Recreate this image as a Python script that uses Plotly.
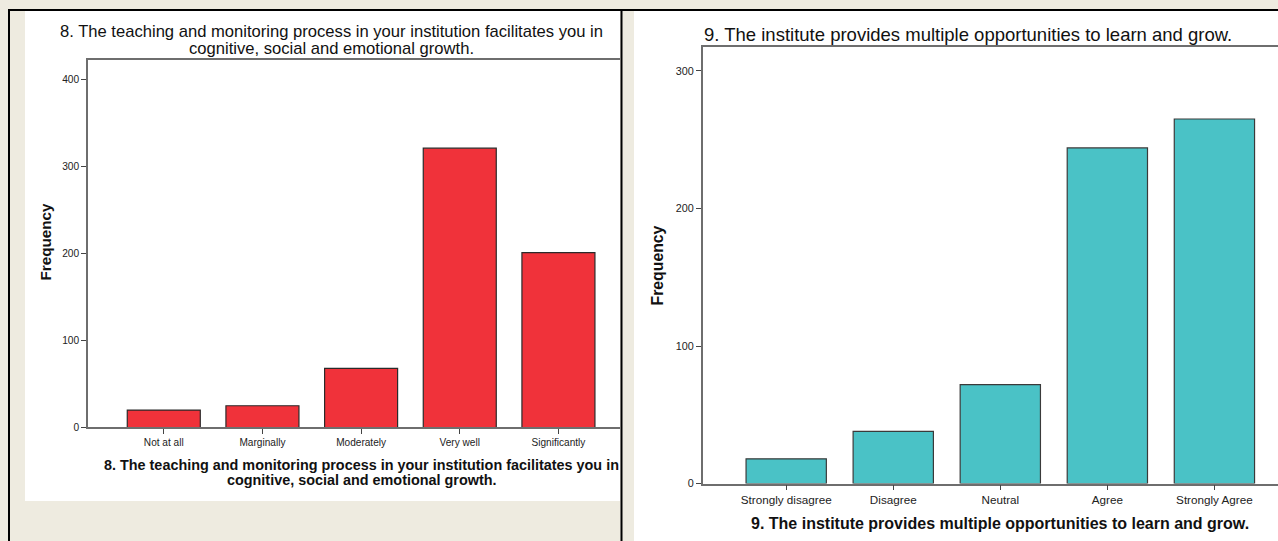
import plotly.graph_objects as go

W, H = 1278, 541  # reference picture size, used to convert pixel positions to paper fractions

# ---- data ----
cats_8 = ["Not at all", "Marginally", "Moderately", "Very well", "Significantly"]
freq_8 = [20, 25, 68, 321, 201]
title_8_l1 = "8. The teaching and monitoring process in your institution facilitates you in"
title_8_l2 = "cognitive, social and emotional growth."
ticks_8 = [0, 100, 200, 300, 400]

cats_9 = ["Strongly disagree", "Disagree", "Neutral", "Agree", "Strongly Agree"]
freq_9 = [18, 38, 72, 244, 265]
title_9 = "9. The institute provides multiple opportunities to learn and grow."
ticks_9 = [0, 100, 200, 300]

FONT = "Liberation Sans, Arial, sans-serif"
RED = "#F0323A"
TEAL = "#4AC2C6"
BEIGE = "#EEEBE0"


def px_x(x):
    return x / W


def px_y(y):
    return 1 - y / H


fig = go.Figure()
fig.add_trace(go.Bar(x=cats_8, y=freq_8, width=0.74, marker=dict(color=RED, line=dict(color="#2a2a2a", width=1.2)),
                     xaxis="x", yaxis="y", showlegend=False, hoverinfo="x+y"))
fig.add_trace(go.Bar(x=cats_9, y=freq_9, width=0.75, marker=dict(color=TEAL, line=dict(color="#3a3a3a", width=1.2)),
                     xaxis="x2", yaxis="y2", showlegend=False, hoverinfo="x+y"))

axis_common = dict(showline=True, linecolor="#6e6e6e", linewidth=1.5, ticks="outside", ticklen=5,
                   tickcolor="#444", tickwidth=1.2, showgrid=False, zeroline=False, fixedrange=True,
                   color="#222")

shapes = [
    # white panels
    dict(type="rect", xref="paper", yref="paper", x0=px_x(25), x1=px_x(620), y0=px_y(500), y1=px_y(11),
         fillcolor="white", line=dict(width=0), layer="below"),
    dict(type="rect", xref="paper", yref="paper", x0=px_x(634), x1=1, y0=0, y1=px_y(11),
         fillcolor="white", line=dict(width=0), layer="below"),
    # black borders
    dict(type="line", xref="paper", yref="paper", x0=px_x(8), x1=1, y0=px_y(10), y1=px_y(10),
         line=dict(color="black", width=2)),
    dict(type="line", xref="paper", yref="paper", x0=px_x(9), x1=px_x(9), y0=0, y1=px_y(10),
         line=dict(color="black", width=2)),
    dict(type="line", xref="paper", yref="paper", x0=px_x(621.5), x1=px_x(621.5), y0=0, y1=px_y(10),
         line=dict(color="black", width=2)),
]

ann = []


def add_text(text, x, y, size, bold=False, angle=0):
    ann.append(dict(text=f"<b>{text}</b>" if bold else text, x=px_x(x), y=px_y(y), xref="paper", yref="paper",
                    showarrow=False, xanchor="center", yanchor="middle", textangle=angle,
                    font=dict(family=FONT, size=size, color="#111")))


add_text(title_8_l1, 331, 31.5, 16.6)
add_text(title_8_l2, 331, 48.5, 16.6)
add_text(title_8_l1, 361, 464, 14.4, bold=True)
add_text(title_8_l2, 361, 479.5, 14.4, bold=True)
add_text("Frequency", 45, 242, 15.2, bold=True, angle=-90)

add_text(title_9, 968, 34, 18.5)
add_text(title_9, 1000, 523, 16, bold=True)
add_text("Frequency", 657, 265, 15.8, bold=True, angle=-90)

fig.update_layout(
    width=1278, height=548, margin=dict(l=0, r=0, t=0, b=0),
    paper_bgcolor=BEIGE, plot_bgcolor="white",
    font=dict(family=FONT, color="#222"),
    xaxis=dict(domain=[px_x(88), px_x(620)], range=[-0.768, 4.624], mirror=True, anchor="y",
               tickfont=dict(size=10.1, family=FONT), **axis_common),
    yaxis=dict(domain=[px_y(426.7), px_y(60)], range=[0, 422.2], tickvals=ticks_8, anchor="x",
               tickfont=dict(size=10.2, family=FONT), **axis_common),
    xaxis2=dict(domain=[px_x(702.7), 1], range=[-0.78, 4.594], mirror=True, anchor="y2",
                tickfont=dict(size=11.7, family=FONT), **axis_common),
    yaxis2=dict(domain=[px_y(482.7), px_y(46.7)], range=[0, 317.5], tickvals=ticks_9, anchor="x2",
                tickfont=dict(size=10.8, family=FONT), **axis_common),
    shapes=shapes, annotations=ann, bargap=0.26,
)

post = (
    "document.documentElement.style.overflow='hidden';"
    "document.body.style.margin='0px';document.body.style.overflow='hidden';"
)

fig.write_html(
    "out.html",
    config={"displayModeBar": False},
    post_script=post,
)
